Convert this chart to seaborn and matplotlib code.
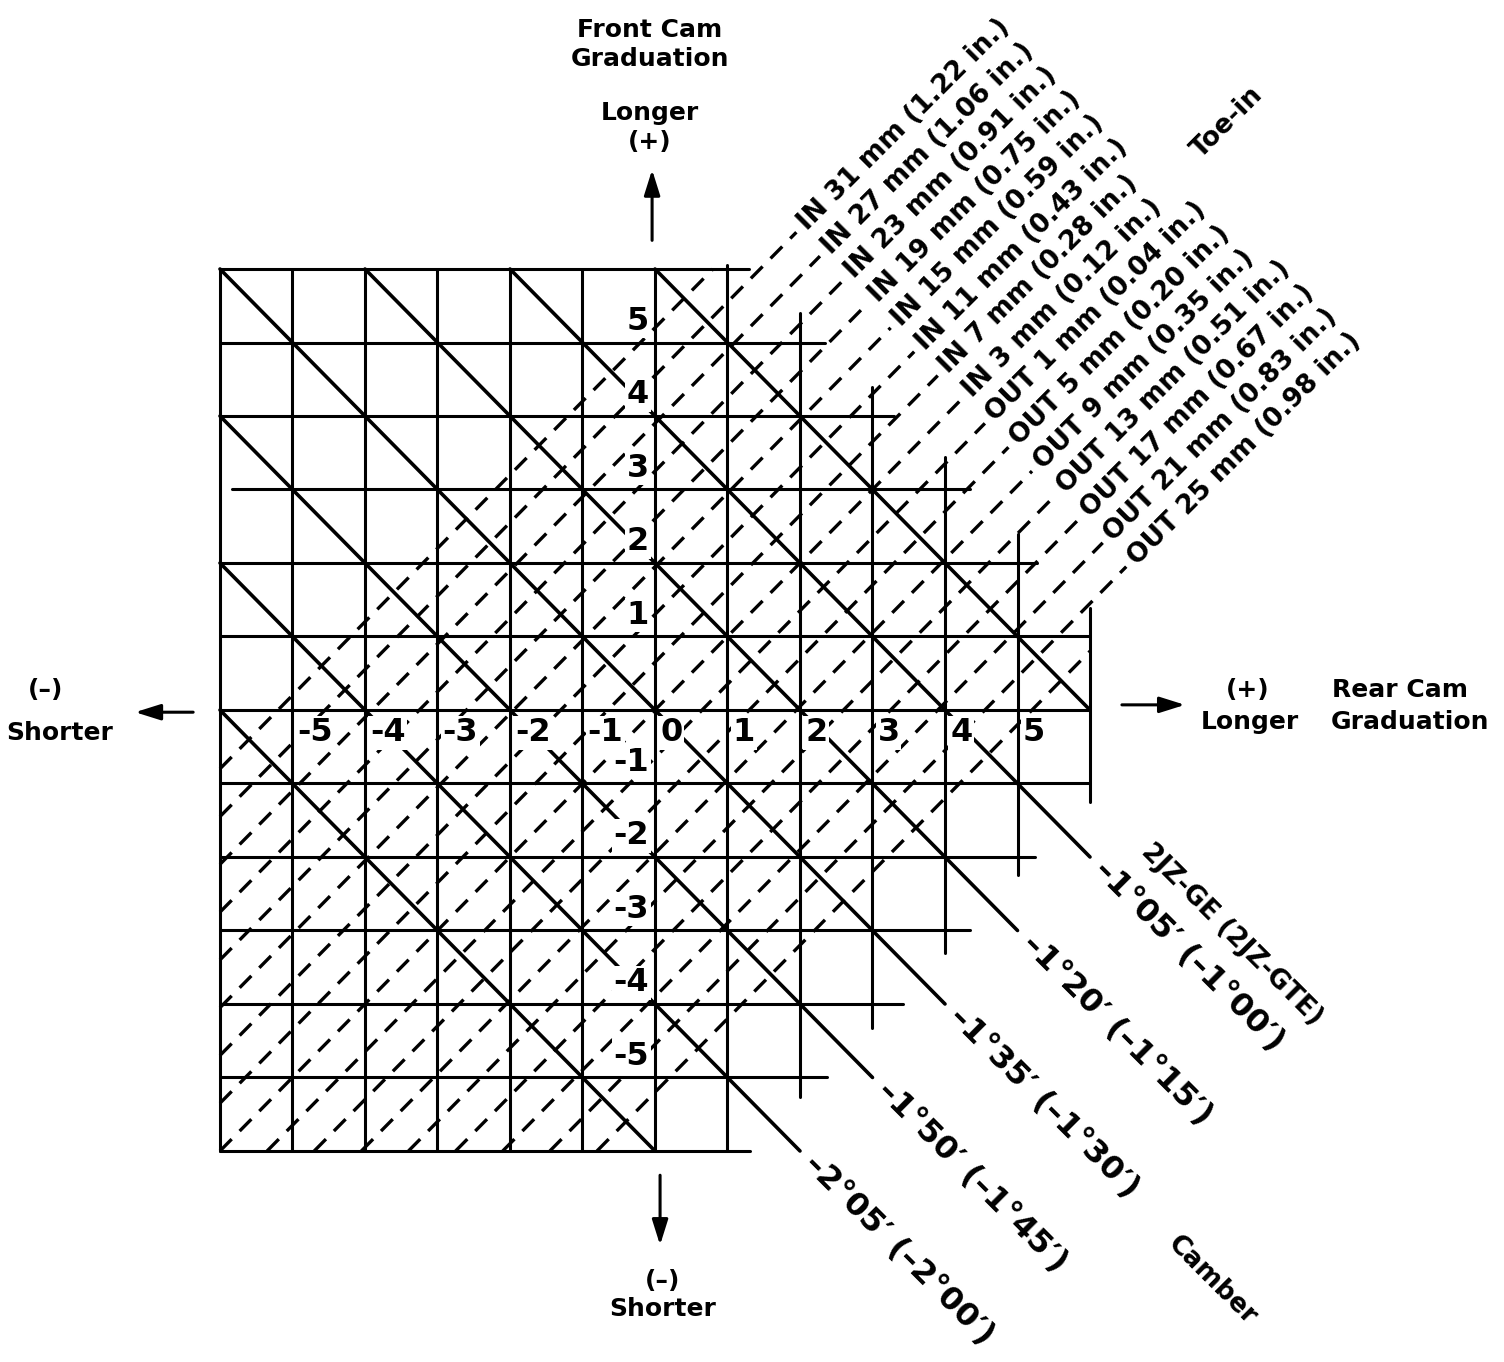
import matplotlib
matplotlib.use("Agg")
import matplotlib.pyplot as plt
import pandas as pd
import seaborn as sns

# --- data --------------------------------------------------------------------
# vertical grid lines (rear cam graduation) and their vertical extent
REAR_GRAD = [-6, -5, -4, -3, -2, -1, 0, 1, 2, 3, 4, 5, 6]
REAR_TOP = [6, 6, 6, 6, 6, 6, 6, 6.05, 5.4, 4.4, 3.44, 2.4, 1.39]
REAR_BOTTOM = [-6, -6, -6, -6, -6, -6, -6, -6, -5.27, -4.33, -3.3, -2.25, -1.25]

# horizontal grid lines (front cam graduation) and their horizontal extent
FRONT_GRAD = [6, 5, 4, 3, 2, 1, 0, -1, -2, -3, -4, -5, -6]
FRONT_LEFT = [-6, -6, -6, -5.83, -6, -6, -6, -6, -6, -6, -6, -6, -6]
FRONT_RIGHT = [1.3, 2.35, 3.3, 4.35, 5.27, 6, 6, 6, 5.24, 4.34, 3.42, 2.37, 1.31]

REAR_TICKS = [-5, -4, -3, -2, -1, 0, 1, 2, 3, 4, 5]
FRONT_TICKS = [5, 4, 3, 2, 1, -1, -2, -3, -4, -5]

# camber lines: rear + front = const
CAMBER_SUM = [-6, -4, -2, 0, 2, 4, 6]
CAMBER_LABELS = ["", "–2°05′ (–2°00′)", "–1°50′ (–1°45′)", "–1°35′ (–1°30′)",
                 "–1°20′ (–1°15′)", "–1°05′ (–1°00′)", ""]

# toe lines: front - rear = const
TOE_DIFF = [5.2, 4.55, 3.9, 3.25, 2.6, 1.95, 1.3, 0.65, 0.0,
            -0.65, -1.3, -1.95, -2.6, -3.25, -3.9, -4.55, -5.2]
TOE_LABELS = ["", "IN 31 mm (1.22 in.)", "IN 27 mm (1.06 in.)", "IN 23 mm (0.91 in.)",
              "IN 19 mm (0.75 in.)", "IN 15 mm (0.59 in.)", "IN 11 mm (0.43 in.)",
              "IN 7 mm (0.28 in.)", "IN 3 mm (0.12 in.)", "OUT 1 mm (0.04 in.)",
              "OUT 5 mm (0.20 in.)", "OUT 9 mm (0.35 in.)", "OUT 13 mm (0.51 in.)",
              "OUT 17 mm (0.67 in.)", "OUT 21 mm (0.83 in.)", "OUT 25 mm (0.98 in.)", ""]

# --- geometry ---------------------------------------------------------------
LO, HI = -6, 6
CAMBER_REACH = 8.0   # labelled camber lines stop at rear - front = 8
TOE_REACH = 8.45     # labelled toe lines stop at rear + front = 8.45

grid_rows = []
for i, (r, top, bot) in enumerate(zip(REAR_GRAD, REAR_TOP, REAR_BOTTOM)):
    grid_rows += [dict(x=r, y=bot, seg=f"v{i}"), dict(x=r, y=top, seg=f"v{i}")]
for i, (f, left, right) in enumerate(zip(FRONT_GRAD, FRONT_LEFT, FRONT_RIGHT)):
    grid_rows += [dict(x=left, y=f, seg=f"h{i}"), dict(x=right, y=f, seg=f"h{i}")]
grid_df = pd.DataFrame(grid_rows)

camber_rows, camber_ends = [], []
for i, (c, lab) in enumerate(zip(CAMBER_SUM, CAMBER_LABELS)):
    start = (LO, c - LO) if c <= 0 else (c - HI, HI)
    if lab:
        end = ((c + CAMBER_REACH) / 2, (c - CAMBER_REACH) / 2)
    else:
        end = (c - LO, LO) if c < 0 else (HI, c - HI)
    camber_rows += [dict(x=start[0], y=start[1], seg=i), dict(x=end[0], y=end[1], seg=i)]
    camber_ends.append(end)
camber_df = pd.DataFrame(camber_rows)

toe_rows, toe_ends = [], []
for i, (d, lab) in enumerate(zip(TOE_DIFF, TOE_LABELS)):
    start = (LO, d + LO) if d >= 0 else (LO - d, LO)
    if lab:
        end = ((TOE_REACH - d) / 2, (TOE_REACH + d) / 2)
    else:
        end = (HI - d, HI) if d > 0 else (HI, HI + d)
    toe_rows += [dict(x=start[0], y=start[1], seg=i), dict(x=end[0], y=end[1], seg=i)]
    toe_ends.append(end)
toe_df = pd.DataFrame(toe_rows)

# --- drawing ----------------------------------------------------------------
sns.set_theme(style="white")
plt.rcParams["font.family"] = ["DejaVu Sans"]
plt.rcParams["text.color"] = "black"

fig = plt.figure(figsize=(15.04, 13.62), dpi=100)
ax = fig.add_axes([0, 0, 1, 1])

line_kw = dict(units="seg", estimator=None, sort=False, color="black",
               legend=False, ax=ax)
sns.lineplot(data=grid_df, x="x", y="y", linewidth=2.2, **line_kw)
sns.lineplot(data=camber_df, x="x", y="y", linewidth=2.6, **line_kw)
sns.lineplot(data=toe_df, x="x", y="y", linewidth=2.4,
             linestyle=(0, (5.0, 3.4)), **line_kw)

ax.set_xlim(-9.034, 11.71)
ax.set_ylim(-8.871, 9.66)
ax.axis("off")

num_kw = dict(fontsize=23, fontweight="bold", zorder=5,
              bbox=dict(boxstyle="square,pad=0.05", fc="white", ec="none"))
for r in REAR_TICKS:
    ax.text(r + 0.07, -0.1, str(r), ha="left", va="top", **num_kw)
for f in FRONT_TICKS:
    ax.text(-0.08, f + 0.08, str(f), ha="right", va="bottom", **num_kw)

# camber labels
for (ex, ey), lab in zip(camber_ends, CAMBER_LABELS):
    if lab:
        ax.text(ex + 0.12, ey - 0.12, lab, rotation=-45, rotation_mode="anchor",
                ha="left", va="center", fontsize=23, fontweight="bold")
ax.text(7.96, -3.06, "2JZ-GE (2JZ-GTE)", rotation=-45, rotation_mode="anchor",
        ha="center", va="center", fontsize=19, fontweight="bold")
ax.text(7.68, -7.76, "Camber", rotation=-45, rotation_mode="anchor",
        ha="center", va="center", fontsize=19, fontweight="bold")

# toe labels
for (ex, ey), lab in zip(toe_ends, TOE_LABELS):
    if lab:
        ax.text(ex + 0.08, ey + 0.08, lab, rotation=45, rotation_mode="anchor",
                ha="left", va="center", fontsize=19, fontweight="bold")
ax.text(7.9, 8.0, "Toe-in", rotation=45, rotation_mode="anchor",
        ha="center", va="center", fontsize=19, fontweight="bold")

# axis captions and arrows
cap_kw = dict(ha="center", va="center", fontsize=18, fontweight="bold", linespacing=1.25)
ax.text(-0.07, 9.05, "Front Cam\nGraduation", **cap_kw)
ax.text(-0.07, 7.93, "Longer\n(+)", **cap_kw)
ax.text(0.1, -7.96, "(–)\nShorter", **cap_kw)
ax.text(-8.41, 0.27, "(–)", **cap_kw)
ax.text(-8.21, -0.31, "Shorter", **cap_kw)
ax.text(8.18, 0.27, "(+)", **cap_kw)
ax.text(8.21, -0.16, "Longer", **cap_kw)
ax.text(10.28, 0.27, "Rear Cam", **cap_kw)
ax.text(10.41, -0.16, "Graduation", **cap_kw)

arrow_kw = dict(arrowstyle="-|>,head_length=0.7,head_width=0.22", color="black",
                lw=2.2, mutation_scale=22, shrinkA=0, shrinkB=0)
ax.annotate("", xy=(-0.04, 7.35), xytext=(-0.04, 6.39), arrowprops=arrow_kw)
ax.annotate("", xy=(0.07, -7.28), xytext=(0.07, -6.33), arrowprops=arrow_kw)
ax.annotate("", xy=(-7.17, -0.03), xytext=(-6.37, -0.03), arrowprops=arrow_kw)
ax.annotate("", xy=(7.31, 0.07), xytext=(6.44, 0.07), arrowprops=arrow_kw)

fig.savefig("out.png", dpi=100, facecolor="white")
plt.close(fig)
